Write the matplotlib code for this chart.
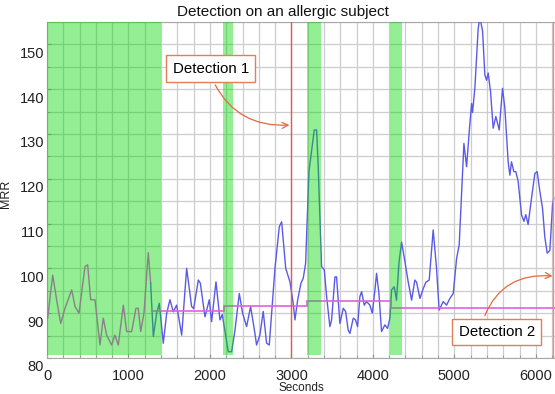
import matplotlib
matplotlib.use('Agg')
import matplotlib.pyplot as plt
from matplotlib.ticker import MultipleLocator
from matplotlib.transforms import ScaledTranslation

plt.rcParams['font.family'] = ['Liberation Sans', 'DejaVu Sans']

# MRR trace (seconds, value)
t = [8, 70, 119, 168, 221, 303, 344, 393, 466, 499, 536, 589, 650, 691, 732,
     793, 834, 875, 937, 978, 1039, 1092, 1120, 1150, 1190, 1243, 1272, 1305,
     1346, 1378, 1427, 1469, 1509, 1550, 1591, 1653, 1714, 1775, 1800, 1857,
     1882, 1939, 1992, 2020, 2074, 2123, 2151, 2225, 2266, 2307, 2360, 2401,
     2450, 2499, 2552, 2572, 2613, 2654, 2695, 2728, 2798, 2851, 2880, 2930,
     2982, 3022, 3043, 3076, 3117, 3145, 3174, 3215, 3248, 3280, 3309, 3329,
     3370, 3403, 3432, 3472, 3493, 3534, 3554, 3575, 3595, 3636, 3665, 3697,
     3718, 3759, 3787, 3812, 3840, 3861, 3894, 3922, 3963, 3992, 4025, 4045,
     4074, 4106, 4147, 4180, 4209, 4229, 4262, 4290, 4319, 4352, 4393, 4433,
     4475, 4515, 4536, 4577, 4618, 4650, 4691, 4740, 4781, 4813, 4863, 4904,
     4945, 4986, 5027, 5059, 5088, 5117, 5150, 5182, 5211, 5223, 5252, 5292,
     5313, 5346, 5374, 5395, 5415, 5444, 5476, 5509, 5550, 5591, 5620, 5660,
     5681, 5701, 5730, 5754, 5783, 5824, 5853, 5877, 5905, 5947, 5988, 6016,
     6045, 6082, 6110, 6139, 6172, 6205, 6220]
mrr = [88.9, 98.5, 92.9, 87.7, 91.1, 95.2, 91.5, 90.0, 100.4, 100.8, 93.0, 93.0,
       82.9, 88.9, 85.1, 82.9, 85.1, 82.9, 91.8, 85.9, 85.9, 91.1, 91.1, 85.9,
       90.0, 103.5, 96.7, 84.8, 90.0, 92.2, 83.3, 90.0, 93.0, 90.3, 91.8, 85.1,
       100.0, 91.5, 91.0, 97.4, 96.7, 89.2, 93.0, 88.1, 97.0, 88.5, 89.7, 81.4,
       81.4, 86.2, 94.4, 90.0, 87.0, 91.5, 85.5, 82.9, 85.1, 90.4, 83.3, 82.9,
       100.0, 109.3, 110.4, 100.0, 97.0, 92.2, 88.5, 92.9, 96.7, 97.8, 101.1,
       121.6, 126.4, 130.9, 130.9, 122.7, 100.4, 99.7, 93.7, 87.0, 88.5, 98.1,
       98.1, 92.9, 87.7, 91.1, 90.4, 86.2, 85.5, 88.9, 88.5, 87.0, 93.7, 94.8,
       91.8, 92.6, 91.8, 90.0, 95.2, 98.9, 94.4, 85.9, 87.4, 86.6, 88.9, 95.2,
       95.9, 92.9, 101.1, 105.9, 101.5, 97.0, 92.9, 97.4, 96.9, 93.3, 95.5,
       96.9, 97.4, 108.6, 100.0, 90.7, 92.6, 91.8, 93.3, 94.4, 102.2, 105.2,
       116.4, 127.9, 122.7, 130.5, 136.8, 134.8, 140.4, 153.5, 156.0, 153.0,
       143.2, 142.0, 143.6, 139.4, 131.3, 133.9, 130.9, 140.2, 135.7, 123.8,
       120.8, 123.8, 121.6, 121.6, 119.4, 112.0, 110.5, 112.0, 109.8, 115.7,
       121.2, 121.6, 117.7, 113.4, 107.0, 103.4, 104.0, 114.2, 115.7]
train_end = 1272

# threshold steps
thr_edges = [1272, 2170, 3190, 4220, 6240]
thr_vals = [90.6, 91.5, 92.7, 91.1]

# shaded intervals (start, end)
span_start = [0, 2160, 3190, 4210]
span_end = [1400, 2280, 3360, 4355]

detections = [3000, 6215]

fig = plt.figure(figsize=(5.55, 3.94), dpi=100)
ax = fig.add_axes([47 / 555, 1 - 358 / 394, 508 / 555, 336 / 394])

# training part drawn in magenta, the rest in blue
i_end = t.index(train_end) + 1
ax.plot(t[:i_end], mrr[:i_end], color='#f040f0', lw=1.0, zorder=3)
ax.plot(t[i_end - 1:], mrr[i_end - 1:], color='#5a5ae8', lw=1.0, zorder=3)
ax.stairs(thr_vals, thr_edges, baseline=None, color='#e060e0', lw=1.2, zorder=3)

for a, b in zip(span_start, span_end):
    ax.axvspan(a, b, ymin=0.008, ymax=1, color='#00d800', alpha=0.42, lw=0, zorder=4)

ax.axvline(detections[0], color='#e85a50', lw=1.0, zorder=5)
ax.axvline(detections[1], color='#f08a80', lw=1.0, zorder=5)

ax.set_xlim(0, 6235)
ax.set_ylim(80, 155)
ax.xaxis.set_major_locator(MultipleLocator(1000))
ax.xaxis.set_minor_locator(MultipleLocator(200))
ax.yaxis.set_major_locator(MultipleLocator(10))
ax.yaxis.set_minor_locator(MultipleLocator(5))
ax.grid(True, which='both', color='#cdcdcd', lw=0.9)
ax.set_axisbelow(True)
ax.tick_params(which='both', direction='in', color='#909090', labelsize=10.5,
               labelcolor='#222222')
ax.tick_params(which='major', length=3)
ax.tick_params(which='minor', length=2)
ax.tick_params(axis='x', pad=8)
ax.tick_params(axis='y', pad=2)
for side in ['left', 'bottom', 'top']:
    ax.spines[side].set_color('#a8a8a8')
    ax.spines[side].set_linewidth(0.8)
ax.spines['right'].set_visible(False)

shift = ScaledTranslation(0, -8 / 100, fig.dpi_scale_trans)
for tick in ax.yaxis.get_major_ticks():
    tick.label1.set_transform(tick.label1.get_transform() + shift)

ax.set_ylabel('MRR', fontsize=9, color='#222222')
ax.yaxis.set_label_coords(-0.068, 0.49)
ax.set_xlabel('Seconds', fontsize=8.5, color='#222222')
ax.xaxis.set_label_coords(0.5, -0.071)

fig.text(283 / 555, 1 - 12 / 394, 'Detection on an allergic subject',
         fontsize=11, ha='center', va='center', color='#111111')

box = dict(boxstyle='square,pad=0.42', fc='white', ec='#e08058', lw=1.0)
ax.annotate('Detection 1', xy=(2975, 132), xytext=(2010, 144.6),
            fontsize=10.8, ha='center', va='center', bbox=box, zorder=6,
            arrowprops=dict(arrowstyle='->', color='#e8683c', lw=0.9, shrinkB=0,
                            relpos=(0.5, 0), connectionstyle='arc3,rad=0.35'))
ax.annotate('Detection 2', xy=(6205, 98.3), xytext=(5520, 85.8),
            fontsize=10.8, ha='center', va='center', bbox=box, zorder=6,
            arrowprops=dict(arrowstyle='->', color='#e8683c', lw=0.9, shrinkB=0,
                            relpos=(0.3, 1), connectionstyle='arc3,rad=-0.4'))

fig.savefig('out.png', dpi=100)
